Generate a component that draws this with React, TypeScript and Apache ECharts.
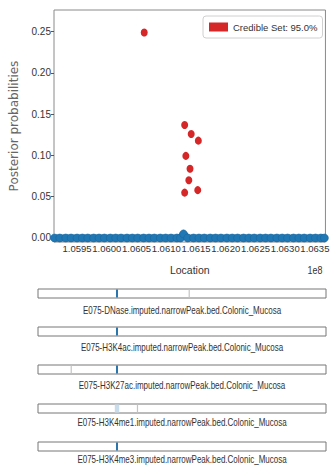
import React, { useEffect, useRef } from "react";
import * as echarts from "echarts";

// ---- data ----
const redName = "Credible Set: 95.0%";
const redLoc = [106063000, 106131000, 106142000, 106154000, 106133000, 106140000, 106138000, 106131000, 106153000];
const redProb = [0.249, 0.137, 0.126, 0.118, 0.0995, 0.084, 0.070, 0.055, 0.058];

const blueLoc = [
  105912000, 105921000, 105931000, 105940000, 105950000, 105959000, 105968000, 105978000, 105987000, 105996000,
  106006000, 106015000, 106024000, 106034000, 106043000, 106052000, 106062000, 106071000, 106080000, 106090000,
  106099000, 106108000, 106118000, 106124000, 106129000, 106136000, 106146000, 106155000, 106164000, 106174000,
  106183000, 106192000, 106202000, 106211000, 106220000, 106230000, 106239000, 106248000, 106258000, 106267000,
  106276000, 106286000, 106295000, 106304000, 106314000, 106323000, 106332000, 106342000, 106351000, 106360000,
  106366000,
];
const blueProb = [
  0, 0, 0, 0, 0, 0, 0, 0, 0, 0,
  0, 0, 0, 0, 0, 0, 0, 0, 0, 0,
  0, 0, 0, 0, 0.005, 0, 0, 0, 0, 0,
  0, 0, 0, 0, 0, 0, 0, 0, 0, 0,
  0, 0, 0, 0, 0, 0, 0, 0, 0, 0,
  0,
];

const xTicks = [105950000, 106000000, 106050000, 106100000, 106150000, 106200000, 106250000, 106300000, 106350000];
const yTicks = [0, 0.05, 0.1, 0.15, 0.2, 0.25];

const trackNames = [
  "E075-DNase.imputed.narrowPeak.bed.Colonic_Mucosa",
  "E075-H3K4ac.imputed.narrowPeak.bed.Colonic_Mucosa",
  "E075-H3K27ac.imputed.narrowPeak.bed.Colonic_Mucosa",
  "E075-H3K4me1.imputed.narrowPeak.bed.Colonic_Mucosa",
  "E075-H3K4me3.imputed.narrowPeak.bed.Colonic_Mucosa",
];
// peaks per track: [start, end, score]
const trackPeaks: number[][][] = [
  [[106035000, 106038000, 1.0], [106150000, 106151000, 0.2]],
  [[106035000, 106038000, 1.0]],
  [[105963000, 105964000, 0.2], [106035000, 106038000, 1.0]],
  [[106033000, 106040000, 0.5], [106068000, 106069000, 0.2]],
  [[106035000, 106038000, 1.0]],
];

// ---- layout ----
const X_MIN = 105911290;
const X_MAX = 106367742;
const FONT = "'Liberation Sans', Arial, sans-serif";
const trackTops = [289, 327, 365, 404, 442];
const trackLabelY = [311, 348, 386, 423, 460];

function peakColor(s: number) {
  if (s >= 0.8) return "#1f6ea8";
  if (s >= 0.3) return "#c9dcec";
  return "#c4c4c4";
}

export default function App() {
  const ref = useRef<HTMLDivElement>(null);
  useEffect(() => {
    const chart = echarts.init(ref.current!, null, { renderer: "svg" });

    const grids: any[] = [
      { left: 43, top: 10, width: 283, height: 232, show: true, borderColor: "#8a8a8a", borderWidth: 1, backgroundColor: "transparent" },
    ];
    const xAxes: any[] = [
      {
        type: "value", gridIndex: 0, min: X_MIN, max: X_MAX,
        splitLine: { show: false },
        axisLine: { show: false },
        axisTick: { show: true, customValues: xTicks, length: 3, lineStyle: { color: "#555" } },
        axisLabel: {
          customValues: xTicks, color: "#333", fontFamily: FONT, fontSize: 9.5, margin: 1,
          showMinLabel: true, showMaxLabel: true, hideOverlap: false,
          formatter: (v: number) => (v / 1e8).toFixed(4),
        },
        name: "Location", nameLocation: "middle", nameGap: 22,
        nameTextStyle: { color: "#333", fontFamily: FONT, fontSize: 10.5 },
      },
    ];
    const yAxes: any[] = [
      {
        type: "value", gridIndex: 0, min: -0.00485, max: 0.2763,
        splitLine: { show: false },
        axisLine: { show: false },
        axisTick: { show: true, customValues: yTicks, length: 3, lineStyle: { color: "#555" } },
        axisLabel: {
          customValues: yTicks, color: "#333", fontFamily: FONT, fontSize: 10, margin: 3,
          showMinLabel: true, showMaxLabel: true,
          formatter: (v: number) => v.toFixed(2),
        },
        name: "Posterior probabilities", nameLocation: "middle", nameGap: 34, nameRotate: 90,
        nameTextStyle: { color: "#666", fontFamily: "'DejaVu Sans', sans-serif", fontSize: 12 },
      },
    ];
    const series: any[] = [
      {
        name: "all", type: "line", xAxisIndex: 0, yAxisIndex: 0,
        data: blueLoc.map((l, i) => [l, blueProb[i]]),
        symbol: "circle", symbolSize: 8, showSymbol: true, clip: false,
        lineStyle: { width: 7, color: "#1f77b4" },
        itemStyle: { color: "#1f77b4", borderColor: "#1a6296", borderWidth: 0.5 },
      },
      {
        name: redName, type: "scatter", xAxisIndex: 0, yAxisIndex: 0,
        data: redLoc.map((l, i) => [l, redProb[i]]),
        symbolSize: [7, 8],
        itemStyle: { color: "#d62728", opacity: 1 },
      },
    ];

    trackNames.forEach((_, t) => {
      const gi = t + 1;
      grids.push({ left: 38, top: trackTops[t], width: 288, height: 9, show: true, borderColor: "#777", borderWidth: 1, backgroundColor: "#fff" });
      xAxes.push({ type: "value", gridIndex: gi, min: X_MIN, max: X_MAX, show: false });
      yAxes.push({ type: "value", gridIndex: gi, min: 0, max: 1, show: false });
      series.push({
        type: "custom", xAxisIndex: gi, yAxisIndex: gi,
        data: trackPeaks[t],
        renderItem: (params: any, api: any) => {
          const cs = params.coordSys;
          const x0 = api.coord([api.value(0), 0])[0];
          const x1 = api.coord([api.value(1), 0])[0];
          const w = Math.max(x1 - x0, 1.2);
          return {
            type: "rect",
            shape: { x: x0, y: cs.y + 0.5, width: w, height: cs.height - 1 },
            style: { fill: peakColor(api.value(2)) },
          };
        },
      });
    });

    const graphics: any[] = [
      {
        type: "text", x: 315, y: 270, scaleX: 0.85,
        style: { text: "1e8", fill: "#333", font: `10.5px ${FONT}`, align: "center", verticalAlign: "middle" },
      },
    ];
    trackNames.forEach((n, t) => {
      graphics.push({
        type: "text", x: 182, y: trackLabelY[t], scaleX: 0.8,
        style: { text: n, fill: "#333", font: `10px ${FONT}`, align: "center", verticalAlign: "middle" },
      });
    });

    chart.setOption({
      animation: false,
      backgroundColor: "#fff",
      grid: grids,
      xAxis: xAxes,
      yAxis: yAxes,
      series,
      legend: {
        data: [redName], left: 203, top: 16, padding: [6, 5, 6, 6],
        icon: "rect", itemWidth: 19, itemHeight: 9, itemGap: 5,
        backgroundColor: "#fff", borderColor: "#d0d0d0", borderWidth: 1, borderRadius: 3,
        textStyle: { color: "#333", fontFamily: FONT, fontSize: 9.5 },
      },
      graphic: graphics,
    });
    return () => chart.dispose();
  }, []);
  return <div ref={ref} style={{ position: "fixed", left: 0, top: 0, width: 332, height: 470 }} />;
}
